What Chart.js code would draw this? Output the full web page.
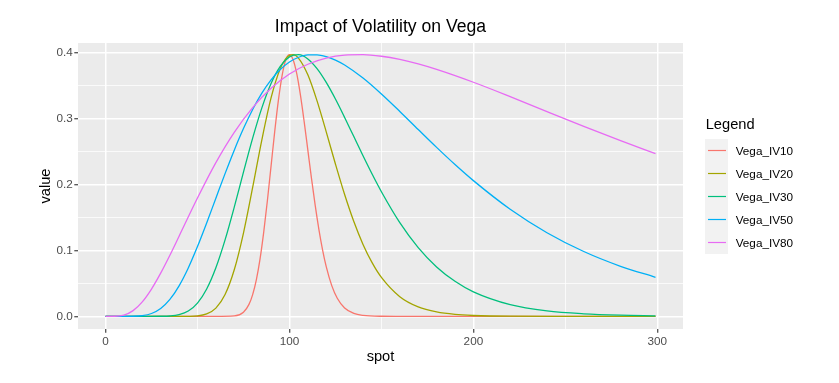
<!DOCTYPE html>
<html lang="en">
<head>
<meta charset="UTF-8">
<title>Impact of Volatility on Vega</title>
<script src="https://cdn.jsdelivr.net/npm/chart.js"></script>
<style>
    body {
        margin: 0;
        background: #ffffff;
        font-family: 'Liberation Sans', Arial, Helvetica, sans-serif;
    }
    .wrap {
        position: relative;
        width: 839px;
        height: 383px;
        overflow: hidden;
    }
    canvas { position: absolute; left: 0; top: 0; }
    .txt { position: absolute; white-space: nowrap; color: #000; }
    .title { left: 0; width: 761px; top: 16.4px; font-size: 17.6px; line-height: 20px; text-align: center; }
    .xlab { left: 0; width: 761px; top: 347.9px; font-size: 14.67px; line-height: 17px; text-align: center; }
    .legend-title { left: 705.7px; top: 115.7px; font-size: 14.67px; line-height: 17px; }
    .key-label { position: absolute; left: 735.7px; font-size: 11.73px; line-height: 23.04px; color: #000; }
</style>
</head>
<body>
<div class="wrap" id="wrap">
    <canvas id="chart" width="839" height="383"></canvas>
    <div class="txt title">Impact of Volatility on Vega</div>
    <div class="txt xlab">spot</div>
    <div class="txt legend-title">Legend</div>
</div>

<script>
    const seriesNames = ['Vega_IV10', 'Vega_IV20', 'Vega_IV30', 'Vega_IV50', 'Vega_IV80'];
    const seriesColors = ['#F8766D', '#A3A500', '#00BF7D', '#00B0F6', '#E76BF3'];

    const spotIV10 = [0, 60, 70, 75, 78, 80, 82, 84, 86, 88, 90, 92, 94, 96, 98, 100, 102, 104, 106, 108, 110, 112, 114, 116, 118, 120, 123, 126, 130, 135, 140, 150, 160, 299];
    const vegaIV10 = [0, 0, 0.0007, 0.0063, 0.0181, 0.0330, 0.0554, 0.0868, 0.1273, 0.1753, 0.2278, 0.2804, 0.3278, 0.3652, 0.3889, 0.3970, 0.3892, 0.3676, 0.3350, 0.2952, 0.2521, 0.2088, 0.1682, 0.1320, 0.1009, 0.0753, 0.0466, 0.0275, 0.0127, 0.0044, 0.0014, 0.0001, 0, 0];

    const spotIV20 = [0, 40, 50, 55, 60, 65, 70, 75, 80, 85, 90, 95, 98, 100, 102, 105, 110, 115, 120, 125, 130, 135, 140, 145, 150, 160, 170, 180, 190, 200, 220, 250, 299];
    const vegaIV20 = [0, 0, 0.0008, 0.0036, 0.0125, 0.0331, 0.0706, 0.1263, 0.1954, 0.2677, 0.3312, 0.3757, 0.3909, 0.3958, 0.3968, 0.3913, 0.3662, 0.3267, 0.2798, 0.2310, 0.1847, 0.1437, 0.1090, 0.0810, 0.0590, 0.0298, 0.0143, 0.0066, 0.0029, 0.0013, 0.0002, 0, 0];

    const spotIV30 = [0, 20, 30, 35, 40, 45, 50, 55, 60, 65, 70, 75, 80, 85, 90, 95, 100, 105, 110, 115, 120, 125, 130, 135, 140, 145, 150, 160, 170, 180, 190, 200, 220, 240, 260, 280, 299];
    const vegaIV30 = [0, 0, 0.0001, 0.0005, 0.0025, 0.0080, 0.0200, 0.0414, 0.0736, 0.1159, 0.1656, 0.2186, 0.2702, 0.3161, 0.3530, 0.3790, 0.3934, 0.3968, 0.3903, 0.3756, 0.3547, 0.3295, 0.3016, 0.2726, 0.2436, 0.2155, 0.1890, 0.1421, 0.1042, 0.0749, 0.0531, 0.0371, 0.0177, 0.0082, 0.0038, 0.0017, 0.0008];

    const spotIV50 = [0, 10, 15, 20, 25, 30, 35, 40, 45, 50, 55, 60, 65, 70, 75, 80, 85, 90, 95, 100, 105, 110, 115, 120, 125, 130, 140, 150, 160, 170, 180, 190, 200, 220, 240, 260, 280, 299];
    const vegaIV50 = [0, 0, 0.0001, 0.0010, 0.0043, 0.0119, 0.0257, 0.0463, 0.0734, 0.1058, 0.1416, 0.1791, 0.2164, 0.2520, 0.2847, 0.3137, 0.3384, 0.3586, 0.3743, 0.3857, 0.3929, 0.3965, 0.3966, 0.3939, 0.3886, 0.3812, 0.3614, 0.3372, 0.3107, 0.2833, 0.2562, 0.2302, 0.2058, 0.1624, 0.1268, 0.0983, 0.0759, 0.0592];

    const spotIV80 = [0, 5, 10, 15, 20, 25, 30, 35, 40, 50, 60, 70, 80, 90, 100, 110, 120, 130, 140, 150, 160, 170, 180, 200, 220, 240, 260, 280, 299];
    const vegaIV80 = [0, 0.0001, 0.0019, 0.0087, 0.0220, 0.0414, 0.0655, 0.0926, 0.1215, 0.1794, 0.2331, 0.2791, 0.3166, 0.3458, 0.3674, 0.3823, 0.3916, 0.3961, 0.3968, 0.3944, 0.3896, 0.3828, 0.3745, 0.3550, 0.3332, 0.3105, 0.2881, 0.2664, 0.2467];

    const xTicks = [0, 50, 100, 150, 200, 250, 300];
    const xTickLabels = ['0', '', '100', '', '200', '', '300'];
    const yTicks = [0, 0.05, 0.1, 0.15, 0.2, 0.25, 0.3, 0.35, 0.4];
    const yTickLabels = ['0.0', '', '0.1', '', '0.2', '', '0.3', '', '0.4'];

    const spots = [spotIV10, spotIV20, spotIV30, spotIV50, spotIV80];
    const vegas = [vegaIV10, vegaIV20, vegaIV30, vegaIV50, vegaIV80];

    const FONT = "'Liberation Sans', Arial, Helvetica, sans-serif";
    const rowH = 23.04;

    // grey panel behind the grid, like ggplot's theme_gray
    const panelBg = {
        id: 'panelBg',
        beforeDraw(chart) {
            const a = chart.chartArea;
            const ctx = chart.ctx;
            ctx.save();
            ctx.fillStyle = '#EBEBEB';
            ctx.fillRect(a.left, a.top, a.right - a.left, a.bottom - a.top);
            ctx.restore();
        }
    };

    // y axis title and the legend key boxes
    const extras = {
        id: 'extras',
        afterDraw(chart) {
            const ctx = chart.ctx;
            ctx.save();
            ctx.translate(49.5, 186);
            ctx.rotate(-Math.PI / 2);
            ctx.fillStyle = '#000';
            ctx.font = '14.67px ' + FONT;
            ctx.textAlign = 'center';
            ctx.textBaseline = 'alphabetic';
            ctx.fillText('value', 0, 0);
            ctx.restore();

            ctx.save();
            ctx.fillStyle = '#F2F2F2';
            ctx.fillRect(705, 139, 23, 115);
            seriesColors.forEach((c, i) => {
                const y = Math.round(139 + i * rowH + rowH / 2) - 0.5;
                ctx.strokeStyle = c;
                ctx.lineWidth = 1.2;
                ctx.beginPath();
                ctx.moveTo(708, y);
                ctx.lineTo(726, y);
                ctx.stroke();
            });
            ctx.restore();
        }
    };

    const gridFor = labels => ({
        color: '#ffffff',
        lineWidth: c => (labels[c.index] !== '' ? 1.5 : 0.75),
        tickColor: c => (labels[c.index] !== '' ? '#333333' : 'rgba(0,0,0,0)'),
        tickWidth: 1.1,
        tickLength: 3.7,
        drawTicks: true
    });

    new Chart(document.getElementById('chart'), {
        type: 'line',
        data: {
            datasets: seriesNames.map((name, i) => ({
                label: name,
                data: spots[i].map((s, j) => ({ x: s, y: vegas[i][j] })),
                borderColor: seriesColors[i],
                borderWidth: 1.3,
                pointRadius: 0,
                fill: false,
                cubicInterpolationMode: 'monotone',
                order: seriesNames.length - i
            }))
        },
        options: {
            responsive: false,
            animation: false,
            events: [],
            layout: { padding: { left: 0, top: 43, right: 156, bottom: 0 } },
            plugins: {
                legend: { display: false },
                title: { display: false },
                tooltip: { enabled: false }
            },
            scales: {
                x: {
                    type: 'linear',
                    min: -14.95,
                    max: 313.95,
                    afterBuildTicks: s => { s.ticks = xTicks.map(v => ({ value: v })); },
                    afterFit: s => { s.height = 54; },
                    border: { display: false },
                    grid: gridFor(xTickLabels),
                    ticks: {
                        autoSkip: false,
                        maxRotation: 0,
                        padding: 2,
                        color: '#4D4D4D',
                        font: { family: FONT, size: 11.73 },
                        callback: (v, i) => xTickLabels[i]
                    }
                },
                y: {
                    type: 'linear',
                    min: -0.0192,
                    max: 0.4145,
                    afterBuildTicks: s => { s.ticks = yTicks.map(v => ({ value: v })); },
                    afterFit: s => { s.width = 78; },
                    border: { display: false },
                    grid: gridFor(yTickLabels),
                    ticks: {
                        autoSkip: false,
                        padding: 1.5,
                        color: '#4D4D4D',
                        font: { family: FONT, size: 11.73 },
                        callback: (v, i) => yTickLabels[i]
                    }
                }
            }
        },
        plugins: [panelBg, extras]
    });

    // legend labels
    const wrap = document.getElementById('wrap');
    seriesNames.forEach((name, i) => {
        const lab = document.createElement('div');
        lab.className = 'key-label';
        lab.style.top = (139 + i * rowH) + 'px';
        lab.textContent = name;
        wrap.appendChild(lab);
    });
</script>
</body>
</html>
